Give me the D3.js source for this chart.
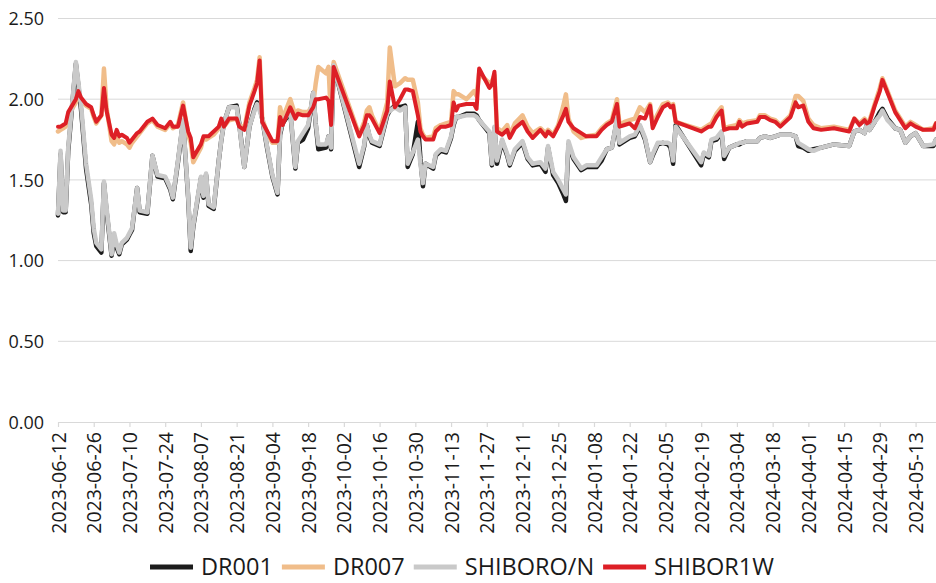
<!DOCTYPE html>
<html>
<head>
<meta charset="UTF-8">
<script src="https://cdn.jsdelivr.net/npm/d3@7"></script>
<style>
body { margin: 0; background: #fff; }
svg text { font-family: "Open Sans", "Noto Sans", sans-serif; fill: #1a1a1a; }
.grid line { stroke: #d9d9d9; stroke-width: 1px; }
.series { fill: none; stroke-linejoin: round; stroke-linecap: round; }
</style>
</head>
<body>
<svg id="chart" width="936" height="583"></svg>
<script>
// trading dates
var dates = [
 "2023-06-12","2023-06-13","2023-06-14","2023-06-15","2023-06-16","2023-06-19","2023-06-20","2023-06-21","2023-06-23","2023-06-25",
 "2023-06-26","2023-06-27","2023-06-29","2023-06-30","2023-07-01","2023-07-03","2023-07-04","2023-07-05","2023-07-06","2023-07-07",
 "2023-07-09","2023-07-10","2023-07-11","2023-07-13","2023-07-14","2023-07-17","2023-07-19","2023-07-21","2023-07-24","2023-07-26",
 "2023-07-27","2023-07-29","2023-07-31","2023-08-02","2023-08-03","2023-08-04","2023-08-07","2023-08-08","2023-08-09","2023-08-10",
 "2023-08-12","2023-08-14","2023-08-15","2023-08-16","2023-08-18","2023-08-21","2023-08-22","2023-08-24","2023-08-26","2023-08-28",
 "2023-08-29","2023-08-30","2023-08-31","2023-09-02","2023-09-04","2023-09-06","2023-09-07","2023-09-08","2023-09-11","2023-09-13",
 "2023-09-14","2023-09-16","2023-09-18","2023-09-20","2023-09-21","2023-09-22","2023-09-25","2023-09-26","2023-09-27","2023-09-28",
 "2023-10-08","2023-10-10","2023-10-11","2023-10-12","2023-10-13","2023-10-16","2023-10-19","2023-10-20","2023-10-22","2023-10-24",
 "2023-10-26","2023-10-27","2023-10-29","2023-10-31","2023-11-01","2023-11-02","2023-11-03","2023-11-06","2023-11-07","2023-11-09",
 "2023-11-11","2023-11-13","2023-11-14","2023-11-15","2023-11-16","2023-11-19","2023-11-22","2023-11-23","2023-11-24","2023-11-28",
 "2023-11-29","2023-11-30","2023-12-01","2023-12-03","2023-12-05","2023-12-06","2023-12-08","2023-12-11","2023-12-13","2023-12-15",
 "2023-12-18","2023-12-20","2023-12-21","2023-12-23","2023-12-25","2023-12-27","2023-12-28","2023-12-29","2023-12-31","2024-01-03",
 "2024-01-05","2024-01-09","2024-01-11","2024-01-13","2024-01-15","2024-01-17","2024-01-18","2024-01-20","2024-01-22","2024-01-24",
 "2024-01-26","2024-01-28","2024-01-30","2024-01-31","2024-02-02","2024-02-04","2024-02-06","2024-02-07","2024-02-08","2024-02-09",
 "2024-02-19","2024-02-20","2024-02-22","2024-02-23","2024-02-25","2024-02-27","2024-02-28","2024-03-01","2024-03-04","2024-03-05",
 "2024-03-06","2024-03-08","2024-03-12","2024-03-13","2024-03-15","2024-03-17","2024-03-19","2024-03-21","2024-03-25","2024-03-27",
 "2024-03-28","2024-03-30","2024-04-01","2024-04-03","2024-04-06","2024-04-11","2024-04-17","2024-04-19","2024-04-21","2024-04-23",
 "2024-04-24","2024-04-25","2024-04-27","2024-04-29","2024-04-30","2024-05-02","2024-05-05","2024-05-07","2024-05-09","2024-05-11",
 "2024-05-13","2024-05-16","2024-05-20","2024-05-21"
];

var dr001 = [
 1.28,1.66,1.30,1.30,1.68,2.22,2.08,1.94,1.57,1.35,
 1.17,1.09,1.05,1.48,1.31,1.03,1.15,1.08,1.04,1.10,
 1.13,1.16,1.19,1.45,1.30,1.29,1.65,1.52,1.51,1.44,
 1.38,1.61,1.86,1.39,1.06,1.21,1.51,1.39,1.53,1.34,
 1.32,1.62,1.75,1.85,1.95,1.96,1.85,1.58,1.83,1.94,
 1.98,1.95,1.88,1.69,1.52,1.41,1.78,1.85,1.92,1.57,
 1.73,1.75,1.82,2.04,1.84,1.69,1.70,1.77,1.69,2.21,
 1.58,1.71,1.84,1.77,1.73,1.71,1.90,1.93,1.96,1.95,
 1.96,1.58,1.66,1.86,1.63,1.46,1.60,1.57,1.65,1.68,
 1.67,1.76,1.84,1.89,1.89,1.91,1.91,1.90,1.87,1.79,
 1.59,1.82,1.60,1.74,1.65,1.59,1.68,1.73,1.63,1.59,
 1.60,1.55,1.70,1.53,1.48,1.41,1.37,1.72,1.63,1.56,
 1.58,1.58,1.62,1.69,1.70,1.87,1.72,1.74,1.76,1.77,
 1.83,1.75,1.61,1.65,1.72,1.73,1.72,1.70,1.60,1.84,
 1.59,1.66,1.64,1.74,1.75,1.79,1.63,1.70,1.72,1.72,
 1.73,1.74,1.74,1.76,1.77,1.76,1.77,1.78,1.78,1.77,
 1.71,1.70,1.68,1.69,1.70,1.72,1.71,1.80,1.81,1.79,
 1.85,1.81,1.86,1.92,1.94,1.88,1.82,1.81,1.73,1.77,
 1.79,1.71,1.71,1.75
];

var dr007 = [
 1.80,1.81,1.82,1.83,1.90,1.98,2.03,1.99,1.96,1.94,
 1.89,1.85,1.90,2.19,1.95,1.74,1.72,1.77,1.73,1.74,
 1.72,1.70,1.73,1.77,1.79,1.85,1.87,1.83,1.81,1.85,
 1.82,1.84,1.98,1.78,1.73,1.61,1.70,1.76,1.75,1.76,
 1.78,1.82,1.87,1.83,1.87,1.88,1.84,1.82,1.98,2.07,
 2.12,2.26,1.88,1.79,1.73,1.73,1.95,1.88,2.00,1.90,
 1.93,1.92,1.92,1.97,2.10,2.20,2.16,2.20,1.86,2.23,
 1.78,1.86,1.93,1.95,1.90,1.80,1.98,2.32,2.08,2.10,
 2.13,2.12,2.12,1.98,1.82,1.78,1.76,1.77,1.82,1.84,
 1.85,1.86,2.05,2.03,2.03,2.00,2.05,2.02,2.16,2.10,
 2.11,2.15,1.82,1.80,1.84,1.78,1.85,1.90,1.83,1.79,
 1.82,1.79,1.81,1.78,1.84,1.96,2.03,1.88,1.80,1.76,
 1.77,1.78,1.82,1.85,1.87,2.00,1.84,1.86,1.87,1.88,
 1.95,1.92,1.97,1.84,1.91,1.97,1.98,1.96,1.97,1.86,
 1.81,1.82,1.84,1.85,1.91,1.95,1.82,1.83,1.84,1.87,
 1.85,1.86,1.87,1.90,1.90,1.88,1.87,1.84,1.90,2.02,
 2.02,1.99,1.88,1.84,1.82,1.83,1.81,1.88,1.85,1.88,
 1.86,1.87,1.97,2.07,2.13,2.05,1.93,1.88,1.83,1.86,
 1.84,1.81,1.82,1.85
];

var shiborON = [
 1.29,1.68,1.31,1.31,1.70,2.23,2.10,1.97,1.60,1.38,
 1.20,1.11,1.07,1.49,1.33,1.04,1.17,1.10,1.05,1.11,
 1.14,1.17,1.20,1.45,1.31,1.30,1.65,1.53,1.52,1.45,
 1.39,1.62,1.87,1.40,1.08,1.22,1.52,1.40,1.54,1.35,
 1.33,1.62,1.75,1.85,1.95,1.95,1.84,1.58,1.83,1.93,
 1.97,1.93,1.88,1.70,1.53,1.42,1.79,1.86,1.93,1.58,
 1.74,1.79,1.84,2.04,1.85,1.72,1.72,1.77,1.70,2.21,
 1.60,1.72,1.84,1.78,1.74,1.72,1.91,1.93,1.95,1.93,
 1.95,1.60,1.67,1.75,1.60,1.48,1.60,1.58,1.66,1.69,
 1.68,1.77,1.85,1.89,1.89,1.90,1.90,1.89,1.87,1.80,
 1.60,1.83,1.62,1.75,1.66,1.60,1.69,1.74,1.64,1.60,
 1.61,1.57,1.71,1.55,1.50,1.44,1.41,1.74,1.64,1.57,
 1.59,1.59,1.64,1.69,1.70,1.88,1.73,1.75,1.77,1.78,
 1.84,1.76,1.61,1.66,1.73,1.73,1.73,1.72,1.62,1.83,
 1.61,1.67,1.65,1.75,1.76,1.80,1.65,1.70,1.72,1.73,
 1.73,1.74,1.74,1.76,1.77,1.76,1.77,1.78,1.78,1.77,
 1.73,1.71,1.69,1.68,1.70,1.72,1.71,1.80,1.81,1.79,
 1.85,1.81,1.86,1.90,1.93,1.87,1.82,1.81,1.73,1.77,
 1.79,1.71,1.72,1.75
];

var shibor1W = [
 1.83,1.83,1.84,1.85,1.92,2.00,2.05,2.01,1.97,1.95,
 1.90,1.86,1.90,2.07,1.93,1.78,1.76,1.81,1.77,1.78,
 1.76,1.73,1.75,1.79,1.80,1.86,1.88,1.84,1.82,1.86,
 1.83,1.83,1.96,1.80,1.76,1.64,1.72,1.77,1.77,1.77,
 1.80,1.83,1.88,1.83,1.88,1.88,1.83,1.81,1.96,2.05,
 2.10,2.24,1.86,1.80,1.74,1.74,1.89,1.84,1.95,1.88,
 1.91,1.90,1.90,1.95,2.00,2.00,2.01,1.99,1.84,2.20,
 1.77,1.84,1.90,1.90,1.88,1.79,1.93,2.11,1.95,2.00,
 2.06,2.06,2.05,1.90,1.80,1.77,1.75,1.75,1.80,1.83,
 1.83,1.84,1.98,1.93,1.96,1.97,1.97,1.94,2.19,2.07,
 2.09,2.17,1.80,1.78,1.81,1.76,1.82,1.86,1.80,1.76,
 1.81,1.77,1.80,1.77,1.83,1.90,1.94,1.86,1.82,1.79,
 1.77,1.77,1.81,1.84,1.86,1.97,1.83,1.84,1.85,1.82,
 1.89,1.88,1.96,1.82,1.89,1.95,1.97,1.95,1.96,1.86,
 1.80,1.81,1.83,1.83,1.89,1.93,1.81,1.82,1.82,1.86,
 1.83,1.85,1.86,1.89,1.89,1.87,1.86,1.83,1.89,1.98,
 1.95,1.96,1.86,1.82,1.81,1.82,1.80,1.88,1.84,1.87,
 1.85,1.86,1.96,2.05,2.12,2.04,1.92,1.87,1.82,1.85,
 1.83,1.81,1.81,1.85
];

var seriesNames = ["DR001", "DR007", "SHIBORO/N", "SHIBOR1W"];
var seriesColors = ["#1c1c1c", "#f0bd8a", "#c9c9c9", "#dd1f26"];
var yTicks = [0, 0.5, 1, 1.5, 2, 2.5];
var xTickLabels = [
 "2023-06-12","2023-06-26","2023-07-10","2023-07-24","2023-08-07","2023-08-21","2023-09-04","2023-09-18","2023-10-02","2023-10-16",
 "2023-10-30","2023-11-13","2023-11-27","2023-12-11","2023-12-25","2024-01-08","2024-01-22","2024-02-05","2024-02-19","2024-03-04",
 "2024-03-18","2024-04-01","2024-04-15","2024-04-29","2024-05-13"
];

var parse = d3.timeParse("%Y-%m-%d");
var allSeries = [dr001, dr007, shiborON, shibor1W];

var plotLeft = 58, plotRight = 936, plotTop = 18.5, plotBottom = 422;
var svg = d3.select("#chart");

var x = d3.scaleTime()
    .domain([parse("2023-06-12"), parse("2024-05-21")])
    .range([plotLeft, plotRight]);
var y = d3.scaleLinear().domain([0, 2.5]).range([plotBottom, plotTop]);

// gridlines
svg.append("g").attr("class", "grid")
  .selectAll("line").data(yTicks.slice(1)).enter().append("line")
    .attr("x1", plotLeft).attr("x2", plotRight)
    .attr("y1", function(d) { return y(d); }).attr("y2", function(d) { return y(d); });

// y axis labels
var yAxis = d3.axisLeft(y).tickValues(yTicks).tickFormat(d3.format(".2f")).tickSize(0).tickPadding(14);
var yg = svg.append("g").attr("transform", "translate(" + plotLeft + ",0)").call(yAxis);
yg.select(".domain").remove();
yg.selectAll("text").style("font-size", "18px").attr("dy", "0.34em");

// x axis
var xAxis = d3.axisBottom(x)
    .tickValues(xTickLabels.map(parse))
    .tickFormat(d3.timeFormat("%Y-%m-%d"))
    .tickSize(5).tickSizeOuter(0);
var xg = svg.append("g").attr("transform", "translate(0," + plotBottom + ")").call(xAxis);
xg.select(".domain").attr("stroke", "#d9d9d9").attr("stroke-width", 1.2);
xg.selectAll(".tick line").attr("stroke", "#d9d9d9").attr("stroke-width", 1.2);
xg.selectAll("text")
  .style("font-size", "19.5px")
  .attr("text-anchor", "end")
  .attr("transform", "rotate(-90)")
  .attr("x", -10).attr("y", 0).attr("dy", "0.36em");

// series lines
var line = d3.line()
    .x(function(d) { return x(d[0]); })
    .y(function(d) { return y(d[1]); });

allSeries.forEach(function(vals, i) {
  var pts = dates.map(function(d, j) { return [parse(d), vals[j]]; });
  svg.append("path").datum(pts)
    .attr("class", "series")
    .attr("stroke", seriesColors[i])
    .attr("stroke-width", i == 3 ? 4 : 4.5)
    .attr("d", line);
});

// legend
var lg = svg.append("g");
var cx = 0;
seriesNames.forEach(function(name, i) {
  var g = lg.append("g").attr("transform", "translate(" + cx + ",0)");
  g.append("line").attr("x1", 0).attr("x2", 43).attr("y1", 0).attr("y2", 0)
    .attr("stroke", seriesColors[i]).attr("stroke-width", 5);
  var t = g.append("text").attr("x", 51).attr("y", 0).attr("dy", "0.36em")
    .style("font-size", "23.5px").text(name);
  cx += 51 + t.node().getComputedTextLength() + 9;
});
var total = cx - 9;
lg.attr("transform", "translate(" + (462 - total / 2) + ",567)");
</script>
</body>
</html>
